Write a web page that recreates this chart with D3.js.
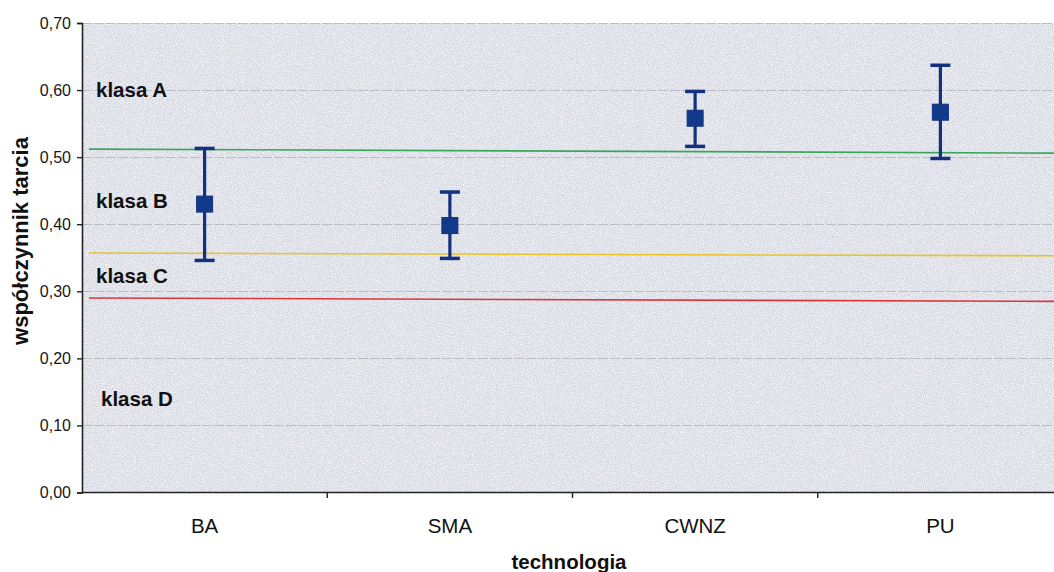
<!DOCTYPE html>
<html>
<head>
<meta charset="utf-8">
<script src="https://cdn.jsdelivr.net/npm/d3@7"></script>
<style>
  html, body { margin: 0; padding: 0; background: #fff; }
  svg { display: block; font-family: "Liberation Sans", Arial, sans-serif; }
</style>
</head>
<body>
<svg id="chart" width="1054" height="572"></svg>
<script>
// Friction coefficient by surface technology (mean with min–max range)
const categories = ["BA", "SMA", "CWNZ", "PU"];
const meanValues = [0.430, 0.398, 0.558, 0.567];
const lowValues  = [0.346, 0.349, 0.516, 0.498];
const highValues = [0.513, 0.448, 0.598, 0.637];

// Class boundaries (value at left end, value at right end)
const boundaryNames  = ["A/B", "B/C", "C/D"];
const boundaryStart  = [0.512, 0.357, 0.290];
const boundaryEnd    = [0.506, 0.353, 0.285];
const boundaryColors = ["#3aa55a", "#e8c42a", "#d8383c"];

// Class labels and the value of their baseline
const classLabels = ["klasa A", "klasa B", "klasa C", "klasa D"];
const classLabelValues = [0.590, 0.424, 0.312, 0.129];

const yTicks = [0, 0.1, 0.2, 0.3, 0.4, 0.5, 0.6, 0.7];

const svg = d3.select("#chart");
const margin = { left: 82, top: 23, bottom: 80 };
const W = 1054, H = 572;
const plotBottom = H - margin.bottom;

const x = d3.scaleBand().domain(categories).range([margin.left, 1063]).padding(0);
const y = d3.scaleLinear().domain([0, 0.7]).range([plotBottom + 0.5, margin.top]);

// Grainy plot background
const defs = svg.append("defs");
const f = defs.append("filter").attr("id", "grain").attr("x", 0).attr("y", 0).attr("width", 1).attr("height", 1);
f.append("feTurbulence").attr("type", "fractalNoise").attr("baseFrequency", 0.9).attr("numOctaves", 2).attr("seed", 3).attr("result", "n");
f.append("feColorMatrix").attr("in", "n").attr("type", "matrix")
  .attr("values", "0 0 0 0 1  0 0 0 0 1  0 0 0 0 1  0 0 0 -1.8 1.15").attr("result", "w");
f.append("feComposite").attr("in", "w").attr("in2", "SourceGraphic").attr("operator", "in").attr("result", "wc");
f.append("feMerge").selectAll("feMergeNode").data(["SourceGraphic", "wc"]).join("feMergeNode").attr("in", d => d);

svg.append("rect")
  .attr("x", margin.left).attr("y", margin.top)
  .attr("width", W - margin.left).attr("height", plotBottom - margin.top)
  .attr("fill", "#d7d9e3")
  .attr("filter", "url(#grain)");

// Horizontal gridlines
svg.append("g").selectAll("line").data(yTicks.filter(t => t > 0))
  .join("line")
  .attr("x1", margin.left).attr("x2", W)
  .attr("y1", d => Math.round(y(d)) + 0.5).attr("y2", d => Math.round(y(d)) + 0.5)
  .attr("stroke", "#a3a6b2").attr("stroke-width", 1)
  .attr("stroke-dasharray", "10,2").attr("opacity", 0.6);

// Class boundary lines
svg.append("g").selectAll("line").data(boundaryNames)
  .join("line")
  .attr("x1", margin.left + 7).attr("x2", W)
  .attr("y1", (d, i) => y(boundaryStart[i]))
  .attr("y2", (d, i) => y(boundaryEnd[i]))
  .attr("stroke", (d, i) => boundaryColors[i])
  .attr("stroke-width", 1.6);

// Class labels
svg.append("g").selectAll("text").data(classLabels)
  .join("text")
  .attr("x", (d, i) => i === 3 ? 101 : 96)
  .attr("y", (d, i) => y(classLabelValues[i]))
  .attr("font-size", 20.5).attr("font-weight", "bold").attr("fill", "#111")
  .text(d => d);

// Y axis
const yAxis = d3.axisLeft(y).tickValues(yTicks)
  .tickFormat(d => d3.format(".2f")(d).replace(".", ","))
  .tickSize(5).tickPadding(6);
const gy = svg.append("g").attr("transform", `translate(${margin.left},0)`).call(yAxis);
gy.select(".domain").attr("stroke", "#222").attr("stroke-width", 1.6);
gy.selectAll(".tick line").attr("stroke", "#222").attr("stroke-width", 1.4);
gy.selectAll(".tick text").attr("font-size", 16).attr("fill", "#161616")
  .attr("font-family", "'Liberation Sans', Arial, sans-serif");

// X axis: ticks at category boundaries, labels centred in each band
const xAxisLine = svg.append("g");
xAxisLine.append("line")
  .attr("x1", margin.left).attr("x2", W)
  .attr("y1", plotBottom + 0.5).attr("y2", plotBottom + 0.5)
  .attr("stroke", "#222").attr("stroke-width", 1.6);
xAxisLine.selectAll("line.sep").data(categories.slice(1))
  .join("line").attr("class", "sep")
  .attr("x1", d => x(d)).attr("x2", d => x(d))
  .attr("y1", plotBottom).attr("y2", plotBottom + 6)
  .attr("stroke", "#222").attr("stroke-width", 1.4);
xAxisLine.selectAll("text").data(categories)
  .join("text")
  .attr("x", d => x(d) + x.bandwidth() / 2)
  .attr("y", 533)
  .attr("text-anchor", "middle")
  .attr("font-size", 20.5).attr("fill", "#111")
  .text(d => d);

// Axis titles
svg.append("text")
  .attr("x", 569).attr("y", 569)
  .attr("text-anchor", "middle")
  .attr("font-size", 20.5).attr("font-weight", "bold").attr("fill", "#111")
  .text("technologia");
svg.append("text")
  .attr("transform", `translate(28,241) rotate(-90)`)
  .attr("text-anchor", "middle")
  .attr("font-size", 22).attr("font-weight", "bold").attr("fill", "#111")
  .text("współczynnik tarcia");

// Error bars with mean markers
const navy = "#14317f";
const g = svg.append("g");
const cx = d => x(d) + x.bandwidth() / 2;
g.selectAll("line.whisker").data(categories)
  .join("line").attr("class", "whisker")
  .attr("x1", cx).attr("x2", cx)
  .attr("y1", (d, i) => y(lowValues[i])).attr("y2", (d, i) => y(highValues[i]))
  .attr("stroke", navy).attr("stroke-width", 3.2);
const caps = categories.flatMap((c, i) => [{ c, v: lowValues[i] }, { c, v: highValues[i] }]);
g.selectAll("line.cap").data(caps)
  .join("line").attr("class", "cap")
  .attr("x1", d => cx(d.c) - 10).attr("x2", d => cx(d.c) + 10)
  .attr("y1", d => y(d.v)).attr("y2", d => y(d.v))
  .attr("stroke", navy).attr("stroke-width", 3.5);
g.selectAll("rect.mean").data(categories)
  .join("rect").attr("class", "mean")
  .attr("x", d => cx(d) - 8).attr("width", 16)
  .attr("y", (d, i) => y(meanValues[i]) - 8).attr("height", 16)
  .attr("fill", "#123a8a").attr("stroke", navy).attr("stroke-width", 1);
</script>
</body>
</html>
